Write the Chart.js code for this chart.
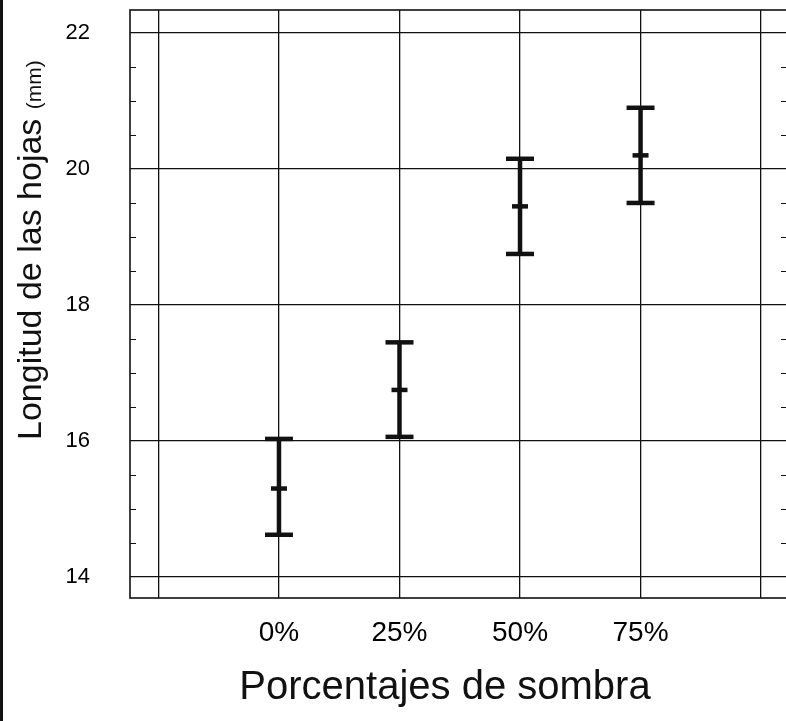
<!DOCTYPE html>
<html lang="es">
<head>
<meta charset="utf-8">
<title>Longitud de las hojas</title>
<script src="https://cdn.jsdelivr.net/npm/chart.js@4/dist/chart.umd.min.js"></script>
<style>
  html, body { margin: 0; padding: 0; background: #fff; overflow: hidden; }
  canvas { display: block; }
</style>
</head>
<body>
<canvas id="leafChart" width="800" height="721"></canvas>
<script>
// Shade treatments and leaf length (mm): mean with upper / lower bar ends
const categories = ["0%", "25%", "50%", "75%"];
const means = [15.3, 16.75, 19.45, 20.2];
const upper = [16.03, 17.45, 20.15, 20.9];
const lower = [14.62, 16.06, 18.75, 19.5];

// Axis ticks
const yTicks = [14, 16, 18, 20, 22];
const yMinor = [14.5, 15, 15.5, 16.5, 17, 17.5, 18.5, 19, 19.5, 20.5, 21, 21.5];
const xGridLines = [-1, 0, 1, 2, 3, 4];

const FONT = "'Liberation Sans', Arial, Helvetica, sans-serif";
const INK = "#111";

// Vertical bar of each error bar, one small line dataset per treatment
const rangeSets = categories.map((c, i) => ({
  type: "line",
  data: [{ x: i, y: lower[i] }, { x: i, y: upper[i] }],
  borderColor: INK,
  borderWidth: 4.5,
  pointRadius: 0,
  borderCapStyle: "butt"
}));

const capSet = {
  type: "scatter",
  data: categories.flatMap((c, i) => [{ x: i, y: upper[i] }, { x: i, y: lower[i] }]),
  pointStyle: "line",
  pointRadius: 14,
  pointBorderWidth: 4.5,
  pointBorderColor: INK,
  pointBackgroundColor: INK
};

const meanSet = {
  type: "scatter",
  data: categories.map((c, i) => ({ x: i, y: means[i] })),
  pointStyle: "line",
  pointRadius: 8,
  pointBorderWidth: 4.5,
  pointBorderColor: INK,
  pointBackgroundColor: INK
};

// Frame, inner minor ticks, axis titles and the dark page edge
const decorations = {
  id: "decorations",
  afterDraw(chart) {
    const ctx = chart.ctx;
    const area = chart.chartArea;
    const y = chart.scales.y;
    ctx.save();

    ctx.strokeStyle = INK;
    ctx.lineWidth = 1.6;
    ctx.strokeRect(area.left, area.top, area.right - area.left, area.bottom - area.top);

    ctx.lineWidth = 1.2;
    ctx.beginPath();
    yMinor.forEach(v => {
      const py = Math.round(y.getPixelForValue(v)) + 0.5;
      ctx.moveTo(area.left, py);
      ctx.lineTo(area.left + 6, py);
      ctx.moveTo(area.right, py);
      ctx.lineTo(area.right - 9, py);
    });
    ctx.stroke();

    ctx.fillStyle = INK;
    ctx.fillRect(0, 0, 3, chart.height);

    // x title
    ctx.font = "40px " + FONT;
    ctx.textAlign = "center";
    ctx.textBaseline = "alphabetic";
    ctx.fillText("Porcentajes de sombra", 445, 699);

    // y title, with the unit set smaller
    ctx.translate(41, 440);
    ctx.rotate(-Math.PI / 2);
    ctx.textAlign = "left";
    ctx.font = "34px " + FONT;
    const main = "Longitud de las hojas ";
    ctx.fillText(main, 0, 0);
    const w = ctx.measureText(main).width;
    ctx.font = "21px " + FONT;
    ctx.fillText("(mm)", w, 0);

    ctx.restore();
  }
};

new Chart(document.getElementById("leafChart"), {
  type: "scatter",
  data: { datasets: [...rangeSets, capSet, meanSet] },
  options: {
    responsive: false,
    animation: false,
    layout: { autoPadding: false, padding: { top: 10, right: 10, left: 0, bottom: 0 } },
    plugins: {
      legend: { display: false },
      tooltip: { enabled: false }
    },
    scales: {
      x: {
        type: "linear",
        min: -1.236,
        max: 4.24,
        afterBuildTicks: scale => { scale.ticks = xGridLines.map(v => ({ value: v })); },
        afterFit: scale => {
          scale.height = 123;
          scale.paddingLeft = 0;
          scale.paddingRight = 0;
        },
        grid: { color: INK, lineWidth: 1.3, drawTicks: false },
        border: { display: false },
        ticks: {
          padding: 18,
          color: "#000",
          font: { family: FONT, size: 28 },
          maxRotation: 0,
          autoSkip: false,
          callback: v => (v >= 0 && v < categories.length ? categories[v] : "")
        }
      },
      y: {
        type: "linear",
        min: 13.69,
        max: 22.338,
        afterBuildTicks: scale => { scale.ticks = yTicks.map(v => ({ value: v })); },
        afterFit: scale => {
          scale.width = 130;
          scale.paddingTop = 0;
          scale.paddingBottom = 0;
        },
        grid: { color: INK, lineWidth: 1.3, drawTicks: false },
        border: { display: false },
        ticks: {
          padding: 40,
          color: "#000",
          font: { family: FONT, size: 22 },
          callback: v => String(v)
        }
      }
    }
  },
  plugins: [decorations]
});
</script>
</body>
</html>
